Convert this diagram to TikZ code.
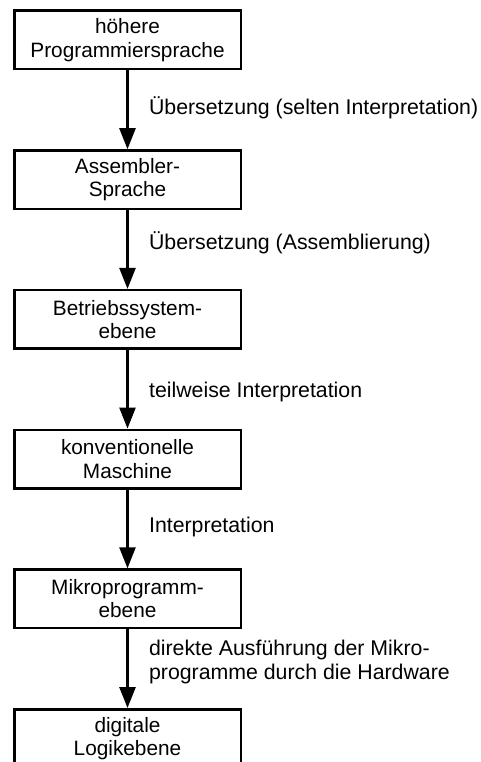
\documentclass[tikz,border=0pt]{standalone}
\usepackage{fontspec}
\setmainfont{Liberation Sans}
\usetikzlibrary{positioning,arrows.meta}

\tikzset{
  level/.style={draw, line width=2.5pt, minimum width=226.5pt, minimum height=58.5pt,
    align=center, font=\fontsize{20.8}{23.5}\selectfont},
  arr/.style={line width=2.5pt, -{Triangle[length=21pt,width=16pt]}},
  lbl/.style={anchor=west, xshift=17pt, yshift=-3pt, align=left, font=\fontsize{21.3}{24.5}\selectfont}
}

\begin{document}
\begin{tikzpicture}[x=1pt, y=1pt, node distance=78.7pt]
    \clip (0,0) rectangle (481,-762);

    % Ebenen
    \node[level] (hll) at (127.5,-40) {höhere\\Programmiersprache};
    \node[level, below=of hll] (asm) {Assembler-\\Sprache};
    \node[level, below=of asm] (bs) {Betriebssystem-\\ebene};
    \node[level, below=of bs] (km) {konventionelle\\Maschine};
    \node[level, below=of km] (mp) {Mikroprogramm-\\ebene};
    \node[level, below=of mp] (dl) {digitale\\Logikebene};

    % Uebergaenge
    \draw[arr] (hll) -- node[lbl, pos=.44] {Übersetzung (selten Interpretation)} (asm);
    \draw[arr] (asm) -- node[lbl, pos=.38] {Übersetzung (Assemblierung)} (bs);
    \draw[arr] (bs) -- node[lbl, pos=.5] {teilweise Interpretation} (km);
    \draw[arr] (km) -- node[lbl, pos=.44] {Interpretation} (mp);
    \draw[arr] (mp) -- node[lbl, pos=.38] {direkte Ausführung der Mikro-\\programme durch die Hardware} (dl);
  \end{tikzpicture}
\end{document}
